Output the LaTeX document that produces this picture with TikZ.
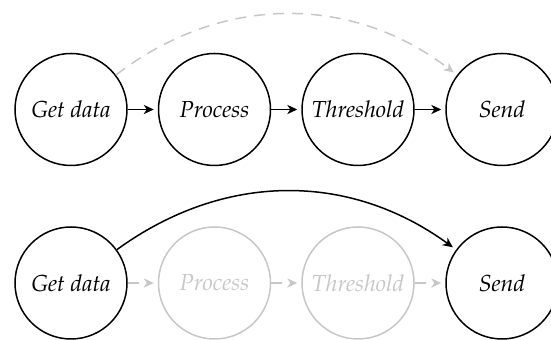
\documentclass[tikz,border=0pt]{standalone}
\usepackage[T1]{fontenc}
\usepackage{mathpazo}
\usetikzlibrary{arrows.meta}
\definecolor{faded}{gray}{0.78}
\tikzset{
  stage/.style={circle, draw, line width=0.75pt, minimum size=56pt, inner sep=0pt,
                font=\fontsize{11.6}{13}\selectfont\itshape},
  fadedstage/.style={stage, draw=faded, text=faded},
  flow/.style={line width=0.75pt, shorten >=2pt,
               -{Stealth[length=5pt,width=4.6pt,inset=1.5pt]}},
  fadedflow/.style={flow, draw=faded, dash pattern=on 5.5pt off 4pt},
}
\begin{document}
\begin{tikzpicture}[x=0.5pt,y=0.5pt]
  \useasboundingbox (0,0) rectangle (551,340);
  \begin{scope}
  \clip (0,0) rectangle (551,340);
  % full pipeline
  \node[stage] (g1) at (71,230.5)    {Get data};
  \node[stage] (p1) at (214.5,230.5) {Process};
  \node[stage] (t1) at (358,230.5)   {Threshold};
  \node[stage] (s1) at (502,230.5)   {Send};
  \draw[flow] (g1) -- (p1);
  \draw[flow] (p1) -- (t1);
  \draw[flow] (t1) -- (s1);
  \draw[fadedflow] (g1) to[bend left=37.5] (s1);
  % shortcut pipeline
  \node[stage] (g2) at (71,57)           {Get data};
  \node[fadedstage] (p2) at (214.5,57)   {Process};
  \node[fadedstage] (t2) at (358,57)     {Threshold};
  \node[stage] (s2) at (502,57)          {Send};
  \draw[fadedflow] (g2) -- (p2);
  \draw[fadedflow] (p2) -- (t2);
  \draw[fadedflow] (t2) -- (s2);
  \draw[flow] (g2) to[bend left=36] (s2);
  \end{scope}
\end{tikzpicture}
\end{document}
